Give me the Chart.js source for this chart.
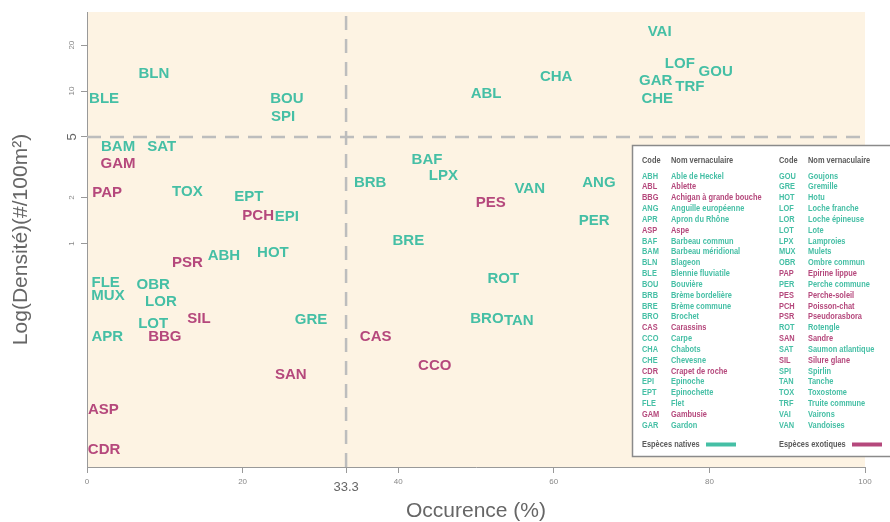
<!DOCTYPE html>
<html>
<head>
  <meta charset="utf-8">
  <title>Occurence / densite</title>
  <script src="https://cdn.jsdelivr.net/npm/chart.js"></script>
  <style>
    body { margin: 0; background: #fff; }
    #wrap { width: 890px; height: 522px; }
  </style>
</head>
<body>
<div id="wrap"><canvas id="occ-chart" width="890" height="522"></canvas></div>

<script>
// species codes, occurence (%) and density (#/100m2)
var codes = ['VAI','LOF','GOU','GAR','TRF','CHE','CHA','ABL','BLN','BLE','BOU','SPI',
  'BAM','SAT','GAM','PAP','TOX','EPT','PCH','EPI','ABH','HOT','PSR','FLE','MUX','OBR',
  'LOR','SIL','LOT','BBG','APR','GRE','SAN','ASP','CDR','BAF','LPX','BRB','VAN','ANG',
  'PES','PER','BRE','ROT','BRO','TAN','CAS','CCO'];
var occurence = [73.6, 76.2, 80.8, 73.1, 77.5, 73.3, 60.3, 51.3, 8.6, 2.2, 25.7, 25.2,
  4.0, 9.6, 4.0, 2.6, 12.9, 20.8, 22.0, 25.7, 17.6, 23.9, 12.9, 2.4, 2.7, 8.5,
  9.5, 14.4, 8.5, 10.0, 2.6, 28.8, 26.2, 2.1, 2.2, 43.7, 45.8, 36.4, 56.9, 65.8,
  51.9, 65.2, 41.3, 53.5, 51.4, 55.5, 37.1, 44.7];
var densite = [24.4, 15.0, 13.3, 11.6, 10.6, 8.86, 12.4, 9.56, 12.9, 8.86, 8.86, 6.75,
  4.29, 4.29, 3.32, 2.14, 2.18, 2.02, 1.51, 1.50, 0.828, 0.866, 0.745, 0.551, 0.452, 0.534,
  0.417, 0.320, 0.299, 0.244, 0.244, 0.315, 0.137, 0.0809, 0.0443, 3.53, 2.77, 2.49, 2.28, 2.49,
  1.84, 1.40, 1.04, 0.585, 0.320, 0.313, 0.244, 0.157];
var exotiques = ['GAM','PAP','PCH','PSR','SIL','BBG','SAN','ASP','CDR','PES','CAS','CCO'];

var seuilOcc = 33.3;
var seuilDens = 5;
var xTicks = [0, 20, 33.3, 40, 60, 80, 100];
var yTicks = [1, 2, 5, 10, 20];

// legend table
var legCodes1 = ['ABH','ABL','BBG','ANG','APR','ASP','BAF','BAM','BLN','BLE','BOU','BRB',
  'BRE','BRO','CAS','CCO','CHA','CHE','CDR','EPI','EPT','FLE','GAM','GAR'];
var legNoms1 = ['Able de Heckel','Ablette','Achigan à grande bouche','Anguille européenne',
  'Apron du Rhône','Aspe','Barbeau commun','Barbeau méridional','Blageon','Blennie fluviatile',
  'Bouvière','Brème bordelière','Brème commune','Brochet','Carassins','Carpe','Chabots',
  'Chevesne','Crapet de roche','Epinoche','Epinochette','Flet','Gambusie','Gardon'];
var legCodes2 = ['GOU','GRE','HOT','LOF','LOR','LOT','LPX','MUX','OBR','PAP','PER','PES',
  'PCH','PSR','ROT','SAN','SAT','SIL','SPI','TAN','TOX','TRF','VAI','VAN'];
var legNoms2 = ['Goujons','Gremille','Hotu','Loche franche','Loche épineuse','Lote','Lamproies',
  'Mulets','Ombre commun','Epirine lippue','Perche commune','Perche-soleil','Poisson-chat',
  'Pseudorasbora','Rotengle','Sandre','Saumon atlantique','Silure glane','Spirlin','Tanche',
  'Toxostome','Truite commune','Vairons','Vandoises'];
var legExotiques = ['ABL','BBG','ASP','CAS','CDR','GAM','PAP','PES','PCH','PSR','SAN','SIL'];

var VERT = '#45bfa5';
var ROSE = '#b5487c';
var FOND = '#fdf3e3';
var yMin = 0.0342, yMax = 33.0;

var natives = [], exo = [];
for (var i = 0; i < codes.length; i++) {
  var pt = {x: occurence[i], y: densite[i], code: codes[i]};
  if (exotiques.indexOf(codes[i]) >= 0) exo.push(pt); else natives.push(pt);
}

var fondPlugin = {
  id: 'fond',
  beforeDraw: function(chart) {
    var a = chart.chartArea, ctx = chart.ctx;
    ctx.save();
    ctx.fillStyle = FOND;
    ctx.fillRect(a.left, a.top, a.right - a.left, a.bottom - a.top);
    ctx.restore();
  }
};

var etiquettes = {
  id: 'etiquettes',
  afterDatasetsDraw: function(chart) {
    var ctx = chart.ctx;
    ctx.save();
    ctx.font = 'bold 15px "Liberation Sans", Arial, sans-serif';
    ctx.textAlign = 'center';
    ctx.textBaseline = 'middle';
    chart.data.datasets.forEach(function(ds, di) {
      if (!ds.codeLabels) return;
      var meta = chart.getDatasetMeta(di);
      meta.data.forEach(function(el, j) {
        ctx.fillStyle = ds.labelColor;
        ctx.fillText(ds.data[j].code, el.x, el.y);
      });
    });
    ctx.restore();
  }
};

// condensed text: squeeze a normal sans horizontally
function texteEtroit(ctx, txt, x, y) {
  ctx.save();
  ctx.translate(x, y);
  ctx.scale(0.78, 1);
  ctx.fillText(txt, 0, 0);
  ctx.restore();
}

var legende = {
  id: 'legende',
  afterDraw: function(chart) {
    var ctx = chart.ctx;
    var bx = 632.5, by = 145.5, bw = 262, bh = 311;
    ctx.save();
    ctx.fillStyle = '#fff';
    ctx.fillRect(bx, by, bw, bh);
    ctx.strokeStyle = '#8a8a8a';
    ctx.lineWidth = 1.5;
    ctx.strokeRect(bx, by, bw, bh);

    ctx.font = 'bold 9.5px "Liberation Sans", Arial, sans-serif';
    ctx.textBaseline = 'middle';
    ctx.textAlign = 'left';
    ctx.fillStyle = '#5a5a5a';
    texteEtroit(ctx, 'Code', 642, 160);
    texteEtroit(ctx, 'Nom vernaculaire', 671, 160);
    texteEtroit(ctx, 'Code', 779, 160);
    texteEtroit(ctx, 'Nom vernaculaire', 808, 160);

    function colonne(cs, ns, xc, xn) {
      for (var k = 0; k < cs.length; k++) {
        var y = 176 + k * 10.83;
        ctx.fillStyle = legExotiques.indexOf(cs[k]) >= 0 ? ROSE : VERT;
        texteEtroit(ctx, cs[k], xc, y);
        texteEtroit(ctx, ns[k], xn, y);
      }
    }
    colonne(legCodes1, legNoms1, 642, 671);
    colonne(legCodes2, legNoms2, 779, 808);

    ctx.fillStyle = '#5a5a5a';
    texteEtroit(ctx, 'Espèces natives', 642, 444);
    texteEtroit(ctx, 'Espèces exotiques', 779, 444);
    ctx.fillStyle = VERT;
    ctx.fillRect(706, 442.5, 30, 4);
    ctx.fillStyle = ROSE;
    ctx.fillRect(852, 442.5, 30, 4);
    ctx.restore();
  }
};

var ligneDash = {
  type: 'line', showLine: true, pointRadius: 0, fill: false,
  borderColor: '#bdbdbd', borderWidth: 2.5, borderDash: [14, 9]
};

var petit = {size: 8, family: '"Liberation Sans", Arial'};
var grand = {size: 13, family: '"Liberation Sans", Arial', lineHeight: 1.6};

var chart = new Chart(document.getElementById('occ-chart').getContext('2d'), {
  type: 'scatter',
  data: {
    datasets: [
      Object.assign({data: [{x: seuilOcc, y: yMin}, {x: seuilOcc, y: yMax}]}, ligneDash),
      Object.assign({data: [{x: 0, y: seuilDens}, {x: 100, y: seuilDens}]}, ligneDash),
      {label: 'Espèces natives', data: natives, pointRadius: 0, codeLabels: true, labelColor: VERT},
      {label: 'Espèces exotiques', data: exo, pointRadius: 0, codeLabels: true, labelColor: ROSE}
    ]
  },
  options: {
    responsive: false,
    animation: false,
    events: [],
    layout: {padding: {top: 12, right: 25, left: 0, bottom: 0}},
    plugins: {legend: {display: false}, tooltip: {enabled: false}},
    scales: {
      x: {
        type: 'linear', min: 0, max: 100,
        afterFit: function(s) { s.height = 55; },
        afterBuildTicks: function(s) { s.ticks = xTicks.map(function(v) { return {value: v}; }); },
        grid: {drawOnChartArea: false, drawTicks: true, tickLength: 6, color: '#999'},
        border: {display: true, color: '#999', width: 1},
        ticks: {
          padding: 4,
          autoSkip: false,
          maxRotation: 0,
          callback: function(v) { return String(v); },
          color: function(c) { return c.tick && c.tick.value === seuilOcc ? '#666' : '#888'; },
          font: function(c) { return c.tick && c.tick.value === seuilOcc ? grand : petit; }
        },
        title: {display: true, text: 'Occurence (%)', color: '#666',
          font: {size: 21, family: '"Liberation Sans", Arial', lineHeight: 1.0},
          padding: {top: 0, bottom: 0}}
      },
      y: {
        type: 'logarithmic', min: yMin, max: yMax,
        afterFit: function(s) { s.width = 87; },
        afterBuildTicks: function(s) { s.ticks = yTicks.map(function(v) { return {value: v}; }); },
        grid: {drawOnChartArea: false, drawTicks: true, tickLength: 6, color: '#999'},
        border: {display: true, color: '#999', width: 1},
        ticks: {
          padding: 4.5,
          autoSkip: false,
          minRotation: 90, maxRotation: 90,
          crossAlign: 'center',
          callback: function(v) { return String(v); },
          color: function(c) { return c.tick && c.tick.value === seuilDens ? '#666' : '#888'; },
          font: function(c) { return c.tick && c.tick.value === seuilDens ? grand : petit; }
        },
        title: {display: true, text: 'Log(Densité)(#/100m²)', color: '#666',
          font: {size: 21, family: '"Liberation Sans", Arial', lineHeight: 1.0},
          padding: {top: 11, bottom: 0}}
      }
    }
  },
  plugins: [fondPlugin, etiquettes, legende]
});
</script>
</body>
</html>
